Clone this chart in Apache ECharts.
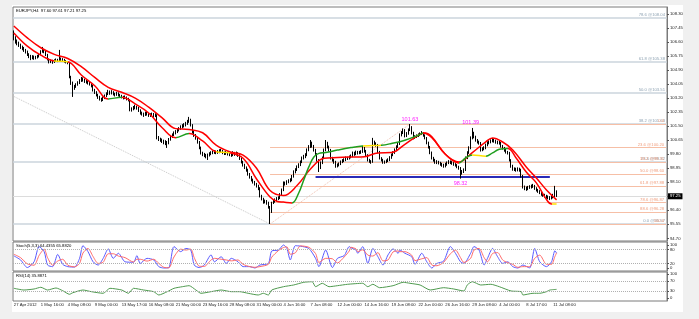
<!DOCTYPE html>
<html><head><meta charset="utf-8">
<script src="https://cdn.jsdelivr.net/npm/echarts@6/dist/echarts.min.js"></script>
<style>html,body{margin:0;padding:0;background:#f0f0f0;}#c{width:699px;height:319px;}</style>
</head><body><div id="c"></div>
<script>
// ---------------- DATA ----------------
const dateLabels = ["27 Apr 2012","1 May 16:00","4 May 08:00","9 May 00:00","13 May 17:00","16 May 08:00","21 May 00:00","23 May 16:00","28 May 08:00","31 May 00:00","4 Jun 16:00","7 Jun 08:00","12 Jun 00:00","14 Jun 16:00","19 Jun 08:00","22 Jun 00:00","26 Jun 16:00","29 Jun 08:00","4 Jul 00:00","8 Jul 17:00","11 Jul 08:00"];
const priceTicks = [108.30,107.45,106.60,105.75,104.90,104.05,103.20,102.35,101.50,100.65,99.80,98.95,98.10,97.25,96.40,95.55,94.70];
const stochTicks = [100,80,20,0];
const rsiTicks = [100,70,30,0];
// [open, close, low, high]
const ohlc = [
[107.05,106.85,106.70,107.30],[106.85,106.60,106.50,106.95],[106.60,106.55,106.40,106.75],[106.55,106.40,106.30,106.62],[106.40,106.30,106.18,106.50],[106.30,106.20,106.10,106.38],[106.20,106.10,106.00,106.30],[106.10,106.00,105.90,106.18],[106.00,105.85,105.75,106.08],[105.85,105.75,105.62,105.92],
[105.75,105.63,105.50,105.82],[105.63,105.70,105.55,105.80],[105.70,105.63,105.52,105.78],[105.63,105.68,105.55,105.76],[105.68,105.72,105.60,105.82],[105.72,105.85,105.66,105.92],[105.85,106.00,105.80,106.10],[106.00,106.12,105.95,106.30],[106.12,106.02,105.92,106.18],[106.02,105.82,105.75,106.06],
[105.82,105.55,105.48,105.88],[105.55,105.39,105.30,105.60],[105.39,105.45,105.32,105.55],[105.45,105.39,105.28,105.52],[105.39,105.46,105.33,105.55],[105.46,105.51,105.40,105.60],[105.51,105.48,105.38,105.58],[105.48,105.57,105.42,106.12],[105.57,105.55,105.45,105.66],[105.55,105.51,105.42,105.62],
[105.51,105.44,105.35,105.58],[105.44,105.39,105.30,105.50],[105.39,105.33,105.25,105.45],[105.33,104.48,104.40,105.38],[104.48,104.12,104.00,104.55],[104.12,103.82,103.27,104.20],[103.82,103.90,103.70,104.00],[103.90,104.00,103.82,104.10],[104.00,104.12,103.95,104.22],[104.12,104.25,104.05,104.35],
[104.25,104.36,104.18,104.48],[104.36,104.30,104.20,104.45],[104.30,104.22,104.12,104.38],[104.22,104.18,104.08,104.30],[104.18,104.12,104.02,104.26],[104.12,104.05,103.96,104.20],[104.05,103.94,103.85,104.12],[103.94,103.69,103.60,104.00],[103.69,103.55,103.45,103.76],[103.55,103.40,103.30,103.62],
[103.40,103.27,103.15,103.46],[103.27,103.15,103.05,103.34],[103.15,103.09,102.98,103.22],[103.09,103.20,103.02,103.30],[103.20,103.33,103.14,103.42],[103.33,103.45,103.26,103.55],[103.45,103.57,103.38,103.70],[103.57,103.50,103.40,103.66],[103.50,103.55,103.42,103.68],[103.55,103.45,103.36,103.62],
[103.45,103.40,103.30,103.52],[103.40,103.48,103.34,103.58],[103.48,103.39,103.30,103.55],[103.39,103.33,103.24,103.45],[103.33,103.28,103.18,103.40],[103.28,103.21,103.12,103.34],[103.21,103.25,103.14,103.36],[103.25,103.15,103.06,103.30],[103.15,103.09,103.00,103.22],[103.09,102.48,102.40,103.14],
[102.48,102.55,102.38,102.64],[102.55,102.62,102.46,102.72],[102.62,102.66,102.52,102.80],[102.66,102.60,102.50,102.74],[102.60,102.45,102.36,102.66],[102.45,102.30,102.20,102.52],[102.30,102.25,102.14,102.38],[102.25,102.18,102.06,102.32],[102.18,102.28,102.12,102.38],[102.28,102.24,102.14,102.36],
[102.24,102.15,102.06,102.30],[102.15,102.18,102.06,102.28],[102.18,102.22,102.10,102.32],[102.22,102.12,102.02,102.30],[102.12,102.18,102.05,102.28],[102.18,100.79,100.70,102.22],[100.79,100.72,100.60,100.90],[100.72,100.66,100.55,100.80],[100.66,100.60,100.48,100.75],[100.60,100.54,100.40,100.68],
[100.54,100.50,100.35,100.65],[100.50,100.48,100.18,100.60],[100.48,100.70,100.40,100.78],[100.70,100.85,100.62,100.94],[100.85,100.98,100.78,101.06],[100.98,101.09,100.90,101.18],[101.09,101.15,101.00,101.26],[101.15,101.27,101.08,101.36],[101.27,101.35,101.18,101.44],[101.35,101.45,101.28,101.55],
[101.45,101.50,101.36,101.62],[101.50,101.57,101.42,101.68],[101.57,101.65,101.48,101.76],[101.65,101.76,101.58,101.88],[101.76,101.88,101.70,102.06],[101.88,101.57,101.48,101.95],[101.57,101.15,101.05,101.62],[101.15,100.95,100.85,101.22],[100.95,100.79,100.68,101.02],[100.79,100.54,100.44,100.85],
[100.54,100.20,100.10,100.60],[100.20,99.88,99.78,100.26],[99.88,99.80,99.68,99.95],[99.80,99.75,99.62,99.88],[99.75,99.70,99.55,99.82],[99.70,99.75,99.45,99.84],[99.75,99.82,99.66,99.92],[99.82,99.88,99.74,99.98],[99.88,99.92,99.80,100.02],[99.92,99.94,99.82,100.05],
[99.94,99.90,99.80,100.02],[99.90,99.94,99.82,100.05],[99.94,99.98,99.86,100.10],[99.98,100.00,99.88,100.12],[100.00,99.88,99.80,100.06],[99.88,99.85,99.75,99.96],[99.85,99.90,99.76,100.00],[99.90,99.82,99.72,99.96],[99.82,99.78,99.68,99.90],[99.78,99.75,99.64,99.86],
[99.75,99.88,99.68,99.98],[99.88,99.80,99.70,99.94],[99.80,99.85,99.72,99.96],[99.85,99.75,99.64,99.92],[99.75,99.55,99.45,99.80],[99.55,99.33,99.24,99.60],[99.33,99.15,99.05,99.40],[99.15,99.00,98.90,99.22],[99.00,98.85,98.74,99.06],[98.85,98.60,98.50,98.92],
[98.60,98.42,98.32,98.66],[98.42,98.25,98.15,98.48],[98.25,98.12,98.02,98.32],[98.12,98.00,97.90,98.18],[98.00,97.88,97.78,98.06],[97.88,97.75,97.62,97.95],[97.75,97.27,97.18,97.80],[97.27,97.10,97.00,97.34],[97.10,96.91,96.80,97.16],[96.91,96.95,96.82,97.05],
[96.95,96.85,96.74,97.02],[96.85,96.60,96.50,96.92],[96.60,96.30,95.57,96.66],[96.30,96.85,96.24,96.92],[96.85,96.95,96.78,97.04],[96.95,97.03,96.86,97.12],[97.03,97.10,96.95,97.20],[97.10,97.15,97.02,97.25],[97.15,97.35,97.08,97.44],[97.35,97.63,97.28,97.72],
[97.63,98.06,97.56,98.15],[98.06,98.00,97.90,98.14],[98.00,98.12,97.94,98.22],[98.12,98.18,98.04,98.28],[98.18,98.24,98.10,98.34],[98.24,98.45,98.16,98.54],[98.45,98.72,98.38,98.82],[98.72,98.85,98.64,98.95],[98.85,99.03,98.78,99.12],[99.03,99.15,98.96,99.25],
[99.15,99.33,99.08,99.42],[99.33,99.57,99.26,99.66],[99.57,99.65,99.48,99.76],[99.65,99.75,99.56,99.86],[99.75,100.06,99.68,100.15],[100.06,100.25,99.98,100.35],[100.25,100.48,100.18,100.66],[100.48,100.30,100.20,100.56],[100.30,100.06,99.96,100.36],[100.06,99.80,99.70,100.12],
[99.80,99.45,99.35,99.86],[99.45,98.97,98.72,99.50],[98.97,99.27,98.90,99.36],[99.27,99.57,99.20,99.66],[99.57,100.05,99.50,100.14],[100.05,100.48,99.98,100.66],[100.48,100.25,100.15,100.55],[100.25,100.06,99.96,100.32],[100.06,99.57,99.48,100.12],[99.57,99.45,99.35,99.64],
[99.45,99.33,99.22,99.52],[99.33,99.09,98.98,99.40],[99.09,99.15,99.00,99.24],[99.15,99.21,99.06,99.30],[99.21,99.33,99.14,99.42],[99.33,99.40,99.26,99.50],[99.40,99.45,99.32,99.55],[99.45,99.57,99.38,99.66],[99.57,99.55,99.45,99.65],[99.55,99.63,99.48,99.72],
[99.63,99.69,99.55,99.78],[99.69,99.88,99.62,99.96],[99.88,99.80,99.70,99.95],[99.80,99.92,99.74,100.02],[99.92,99.88,99.78,100.00],[99.88,99.90,99.80,100.00],[99.90,99.94,99.82,100.04],[99.94,100.18,99.88,100.30],[100.18,100.00,99.90,100.24],[100.00,99.75,99.65,100.06],
[99.75,99.45,99.36,99.80],[99.45,99.38,99.28,99.52],[99.38,99.33,99.22,99.44],[99.33,100.54,99.28,100.79],[100.54,100.45,100.34,100.62],[100.45,100.36,100.25,100.52],[100.36,99.95,99.85,100.42],[99.95,99.57,99.48,100.00],[99.57,99.45,99.36,99.62],[99.45,99.33,99.22,99.52],
[99.33,99.33,99.22,99.42],[99.33,99.40,99.26,99.48],[99.40,99.45,99.32,99.55],[99.45,99.60,99.38,99.68],[99.60,99.75,99.52,99.84],[99.75,99.90,99.68,99.98],[99.90,100.06,99.82,100.15],[100.06,100.25,99.98,100.34],[100.25,100.42,100.18,100.52],[100.42,100.97,100.36,101.06],
[100.97,101.10,100.88,101.20],[101.10,101.27,101.02,101.36],[101.27,100.91,100.82,101.32],[100.91,101.05,100.84,101.14],[101.05,101.27,100.98,101.36],[101.27,101.45,101.20,101.63],[101.45,101.10,101.00,101.50],[101.10,100.79,100.70,101.16],[100.79,100.85,100.72,100.95],[100.85,100.91,100.78,101.00],
[100.91,100.97,100.84,101.06],[100.97,101.03,100.90,101.12],[101.03,101.09,100.96,101.20],[101.09,100.95,100.86,101.14],[100.95,100.79,100.70,101.00],[100.79,100.50,100.40,100.84],[100.50,100.24,100.14,100.56],[100.24,99.90,99.80,100.30],[99.90,99.57,99.48,99.96],[99.57,99.45,99.35,99.64],
[99.45,99.33,99.22,99.52],[99.33,99.33,99.20,99.44],[99.33,99.28,99.18,99.40],[99.28,99.21,99.10,99.34],[99.21,99.15,99.04,99.28],[99.15,99.09,98.98,99.22],[99.09,99.18,99.00,99.28],[99.18,99.27,99.10,99.36],[99.27,99.33,99.20,99.44],[99.33,99.30,99.20,99.42],
[99.30,99.27,99.16,99.38],[99.27,99.20,99.10,99.32],[99.20,99.15,99.05,99.26],[99.15,99.05,98.95,99.20],[99.05,98.97,98.86,99.10],[98.97,98.66,98.32,99.02],[98.66,98.75,98.56,98.84],[98.75,98.85,98.66,98.94],[98.85,99.57,98.78,99.66],[99.57,99.90,99.50,99.98],
[99.90,100.18,99.82,100.28],[100.18,100.79,100.10,100.88],[100.79,101.09,100.70,101.39],[101.09,100.85,100.76,101.16],[100.85,100.66,100.56,100.92],[100.66,100.55,100.45,100.72],[100.55,100.48,100.38,100.62],[100.48,100.06,99.96,100.54],[100.06,100.12,99.98,100.22],[100.12,100.18,100.04,100.28],
[100.18,100.35,100.10,100.44],[100.35,100.48,100.28,100.58],[100.48,100.55,100.40,100.64],[100.55,100.60,100.46,100.70],[100.60,100.66,100.52,100.78],[100.66,100.60,100.50,100.74],[100.60,100.54,100.44,100.68],[100.54,100.50,100.40,100.62],[100.50,100.48,100.38,100.60],[100.48,100.30,100.20,100.54],
[100.30,100.18,100.08,100.36],[100.18,100.05,99.95,100.24],[100.05,99.94,99.84,100.12],[99.94,99.88,99.78,100.00],[99.88,99.45,99.36,99.94],[99.45,99.09,98.98,99.50],[99.09,98.91,98.80,99.16],[98.91,98.88,98.78,99.00],[98.88,98.85,98.74,98.98],[98.85,98.90,98.76,99.00],
[98.90,98.85,98.74,98.98],[98.85,98.48,98.38,98.92],[98.48,97.82,97.72,98.54],[97.82,97.75,97.62,97.90],[97.75,97.70,97.58,97.84],[97.70,97.78,97.62,97.88],[97.78,97.82,97.70,97.92],[97.82,97.85,97.72,97.96],[97.85,97.88,97.76,98.00],[97.88,97.75,97.64,97.94],
[97.75,97.65,97.54,97.80],[97.65,97.57,97.46,97.70],[97.57,97.48,97.38,97.62],[97.48,97.39,97.28,97.54],[97.39,97.33,97.22,97.46],[97.33,97.27,97.16,97.40],[97.27,97.21,97.10,97.34],[97.21,97.18,97.06,97.30],[97.18,97.15,97.02,97.26],[97.15,97.20,97.06,97.32],
[97.20,97.27,97.12,97.40],[97.27,97.60,97.20,97.88],[97.60,97.25,97.21,97.61]
];
// moving averages, [bar index, value]
const maSlow = [[0,107.57],[8,106.85],[16,106.25],[24,105.85],[32,105.60],[40,105.10],[48,104.45],[56,103.85],[64,103.55],[72,103.20],[80,102.65],[88,102.00],[96,101.35],[104,101.30],[112,101.10],[120,100.35],[128,99.95],[136,99.75],[144,98.95],[152,97.60],[160,97.30],[168,97.90],[176,98.90],[184,99.55],[192,99.60],[200,99.63],[208,99.65],[216,99.88],[224,99.90],[232,100.40],[240,100.95],[244,101.08],[248,100.85],[256,99.80],[264,99.33],[272,99.90],[280,100.55],[284,100.78],[290,100.54],[296,100.06],[304,99.03],[310,98.36],[316,97.63],[322,97.03]];
const maFast = [[0,107.15],[8,106.35],[16,105.80],[24,105.45],[32,105.40],[40,104.60],[48,103.95],[56,103.15],[64,103.25],[72,102.85],[80,102.30],[88,101.40],[96,100.80],[104,101.05],[112,100.60],[120,99.95],[128,99.88],[136,99.55],[144,98.30],[152,97.20],[156,96.95],[160,96.90],[165,96.85],[169,97.45],[172,98.24],[175,99.03],[178,99.63],[181,99.85],[185,99.90],[192,100.05],[200,100.20],[207,100.30],[213,100.32],[218,100.34],[224,100.45],[232,100.65],[240,100.95],[243,101.09],[248,100.80],[256,99.80],[264,99.27],[268,99.57],[272,99.75],[280,99.68],[284,99.88],[288,100.10],[293,100.15],[298,99.57],[304,98.72],[310,98.06],[316,97.05],[319,96.78],[322,96.78]];
const stochK = [[0,53],[4,35],[8,2],[12,27],[15,93],[18,71],[20,13],[23,6],[26,59],[29,16],[32,6],[36,4],[39,42],[41,97],[44,71],[47,27],[50,13],[53,42],[56,83],[59,42],[62,64],[66,27],[71,25],[73,54],[75,20],[79,42],[83,35],[86,6],[89,0],[92,2],[95,93],[99,71],[102,85],[105,78],[107,13],[110,2],[113,13],[117,57],[119,27],[123,49],[126,20],[129,42],[133,27],[136,6],[140,6],[143,0],[146,13],[151,20],[153,74],[157,78],[160,100],[162,85],[164,35],[167,97],[170,95],[175,85],[179,42],[181,6],[185,78],[189,2],[192,42],[196,54],[199,93],[200,88],[203,78],[204,64],[207,93],[210,20],[213,85],[216,49],[219,13],[222,57],[225,83],[228,64],[229,78],[232,64],[236,49],[238,16],[242,64],[245,27],[248,0],[251,20],[255,30],[259,93],[262,64],[265,27],[267,20],[271,64],[273,93],[276,78],[279,13],[281,42],[284,85],[287,49],[290,20],[293,27],[296,6],[299,0],[302,13],[306,0],[309,85],[312,27],[316,6],[319,27],[321,75],[322,64.44]];
const stochD = [[0,60],[4,45],[8,18],[12,12],[15,55],[18,82],[20,45],[23,12],[26,30],[29,38],[32,12],[36,5],[39,20],[41,65],[44,85],[47,50],[50,20],[53,25],[56,62],[59,62],[62,52],[66,45],[71,26],[73,38],[75,38],[79,30],[83,38],[86,20],[89,3],[92,1],[95,48],[99,82],[102,78],[105,82],[107,45],[110,8],[113,7],[117,35],[119,42],[123,38],[126,35],[129,31],[133,35],[136,16],[140,6],[143,3],[146,6],[151,16],[153,47],[157,76],[160,89],[162,92],[164,60],[167,66],[170,96],[175,90],[179,63],[181,24],[185,42],[189,40],[192,22],[196,48],[199,74],[200,90],[203,83],[204,71],[207,79],[210,56],[213,52],[216,67],[219,31],[222,35],[225,70],[228,74],[229,71],[232,71],[236,56],[238,32],[242,40],[245,45],[248,13],[251,10],[255,25],[259,62],[262,78],[265,45],[267,24],[271,42],[273,78],[276,85],[279,45],[281,27],[284,63],[287,67],[290,35],[293,23],[296,16],[299,3],[302,6],[306,6],[309,42],[312,56],[316,16],[319,16],[321,50],[322,65.88]];
const rsi = [[0,40.4],[6,33.3],[12,37.5],[16,44.6],[20,33.3],[25,41.7],[29,30.4],[33,15.4],[35,22],[41,33.3],[46,26.3],[53,19.6],[57,40.4],[64,33.3],[68,19.6],[71,40.4],[77,33.3],[83,26.3],[86,12.5],[91,26.3],[95,40.4],[100,47.1],[104,51.3],[108,33.3],[111,19.6],[117,26.3],[123,33.3],[129,26.3],[134,26.3],[139,19.6],[145,12.5],[148,19.6],[151,12.5],[153,33.3],[160,47.1],[166,54.2],[172,65.4],[177,67.9],[179,47.1],[183,61.3],[187,47.1],[192,51.3],[198,57.1],[207,61.3],[210,47.1],[213,57.1],[217,42.9],[225,51.3],[231,65.4],[235,61.3],[241,54.2],[247,33.3],[255,42.9],[261,37.5],[267,29.2],[269,54.2],[272,67.9],[277,54.2],[283,57.1],[288,47.1],[295,29.2],[301,26.3],[302,12.5],[308,19.6],[312,19.6],[316,26.3],[318,33.3],[322,35.89]];
// Fibonacci levels
const greyFibLevels = [108.04,105.38,103.51,101.63,99.32,95.57];
const greyFibLabels = ["78.6 @108.04","61.8 @105.38","50.0 @103.51","38.2 @101.63","23.6 @99.32","0.0 @95.57"];
const salmonFibLevels = [101.63,100.20,99.31,98.60,97.88,96.87,96.28,95.56];
const salmonFibLabels = ["0.0","23.6 @100.20","38.2 @99.31","50.0 @98.60","61.8 @97.88","78.6 @96.87","88.6 @96.28","100.0"];
const swingLabels = [[235,101.63,"101.63","top"],[271,101.39,"101.39","top"],[265,98.32,"98.32","bottom"]];
const supportLine = [[179,98.46],[318,98.46]];
const greyTrend = [[0,103.30],[152,95.57]];
const salmonTrend = [[152,95.57],[235,101.63]];
const lastPrice = 97.25;

// ---------------- CHART ----------------
const N = 388;
const categories = [];
for (let i = 0; i < N; i++) categories.push(i % 16 === 0 && dateLabels[i / 16] ? dateLabels[i / 16] : '');
const FONT = 'Liberation Sans, Arial, sans-serif';
const FS = 4.2;

function slopePieces(pts) {
  const pieces = [];
  for (let j = 0; j < pts.length - 1; j++) {
    const d = (pts[j + 1][1] - pts[j][1]) / (pts[j + 1][0] - pts[j][0]);
    const color = d > 0.01 ? '#1e9e1e' : (d < -0.01 ? '#ff0000' : '#ffe000');
    const p = { gte: pts[j][0], color };
    if (j === pts.length - 2) p.lte = pts[j + 1][0]; else p.lt = pts[j + 1][0];
    pieces.push(p);
  }
  return pieces;
}

const fibLines = [];
greyFibLevels.forEach((v, k) => fibLines.push({
  yAxis: v, lineStyle: { color: '#cbd5dc', width: 1.5, type: 'solid' },
  label: { show: true, position: 'insideEndTop', formatter: greyFibLabels[k], color: '#8fa3b3', fontSize: FS, fontFamily: FONT, distance: [2, 1] }
}));
salmonFibLevels.forEach((v, k) => fibLines.push([
  { coord: [152, v], lineStyle: { color: '#f6bfa6', width: 1, type: 'solid' },
    label: { show: true, position: 'insideEndTop', formatter: salmonFibLabels[k], color: '#f0a080', fontSize: FS, fontFamily: FONT, distance: [2, 1] } },
  { coord: [N - 1, v] }
]));
fibLines.push({ yAxis: lastPrice, lineStyle: { color: '#dcdcdc', width: 1, type: 'solid' },
  label: { show: true, position: 'end', formatter: lastPrice.toFixed(2), backgroundColor: '#000', color: '#fff', fontSize: FS, fontFamily: FONT, padding: [1, 2, 1, 2], distance: 1 } });
fibLines.push([{ coord: greyTrend[0], lineStyle: { color: '#c8c8c8', type: 'dotted', width: 1 }, label: { show: false } }, { coord: greyTrend[1] }]);
fibLines.push([{ coord: salmonTrend[0], lineStyle: { color: '#f0c0b0', type: 'dotted', width: 1 }, label: { show: false } }, { coord: salmonTrend[1] }]);
fibLines.push([{ coord: supportLine[0], lineStyle: { color: '#2a2ab8', type: 'solid', width: 2 }, label: { show: false } }, { coord: supportLine[1] }]);

const chart = echarts.init(document.getElementById('c'), null, { renderer: 'canvas', width: 699, height: 319 });
const gridDefs = [
  { left: 13, top: 7, width: 654, height: 234 },
  { left: 13, top: 242, width: 654, height: 29 },
  { left: 13, top: 272, width: 654, height: 29 }
];
const yLabel = { fontSize: FS, color: '#222', margin: 3, fontFamily: FONT };
chart.setOption({
  animation: false,
  backgroundColor: '#f0f0f0',
  textStyle: { fontFamily: FONT },
  graphic: [
    { type: 'rect', z: -100, shape: { x: 12, y: 5, width: 671, height: 307 }, style: { fill: '#ffffff' } },
    { type: 'text', left: 16, top: 9, z: 100, style: { text: 'EURJPY,H4  97.60 97.61 97.21 97.25', fill: '#000', font: FS + 'px ' + FONT } },
    { type: 'text', left: 16, top: 244, z: 100, style: { text: 'Stoch(5,3,3) 64.4355 65.8820', fill: '#000', font: FS + 'px ' + FONT } },
    { type: 'text', left: 16, top: 274, z: 100, style: { text: 'RSI(14) 35.8871', fill: '#000', font: FS + 'px ' + FONT } }
  ],
  grid: gridDefs.map(g => Object.assign({ show: true, backgroundColor: '#fff', borderColor: '#7a7a7a', borderWidth: 1 }, g)),
  xAxis: [0, 1, 2].map(k => ({
    type: 'category', gridIndex: k, data: categories, boundaryGap: true,
    axisLine: { show: false }, axisTick: { show: false }, splitLine: { show: false },
    axisLabel: k === 2 ? { show: true, interval: 15, showMinLabel: true, align: 'left', fontSize: FS, color: '#222', margin: 2, fontFamily: FONT } : { show: false }
  })),
  yAxis: [
    { type: 'value', gridIndex: 0, position: 'right', min: 94.54, max: 108.72, splitLine: { show: false },
      axisLine: { show: true, lineStyle: { color: '#7a7a7a' } },
      axisTick: { show: true, length: 2, customValues: priceTicks, lineStyle: { color: '#555' } },
      axisLabel: Object.assign({ customValues: priceTicks, formatter: v => v.toFixed(2) }, yLabel) },
    { type: 'value', gridIndex: 1, position: 'right', min: -13, max: 113, splitLine: { show: false },
      axisLine: { show: true, lineStyle: { color: '#7a7a7a' } },
      axisTick: { show: true, length: 2, customValues: stochTicks, lineStyle: { color: '#555' } },
      axisLabel: Object.assign({ customValues: stochTicks }, yLabel) },
    { type: 'value', gridIndex: 2, position: 'right', min: -12.5, max: 108.3, splitLine: { show: false },
      axisLine: { show: true, lineStyle: { color: '#7a7a7a' } },
      axisTick: { show: true, length: 2, customValues: rsiTicks, lineStyle: { color: '#555' } },
      axisLabel: Object.assign({ customValues: rsiTicks }, yLabel) }
  ],
  visualMap: [{ show: false, type: 'piecewise', seriesIndex: 2, dimension: 0, pieces: slopePieces(maFast), outOfRange: { color: '#ff0000' } }],
  series: [
    { type: 'candlestick', xAxisIndex: 0, yAxisIndex: 0, data: ohlc, barWidth: 1, z: 5,
      itemStyle: { color: '#ffffff', color0: '#000000', borderColor: '#000000', borderColor0: '#000000', borderWidth: 1 },
      markLine: { symbol: 'none', silent: true, animation: false, z: 1, data: fibLines },
      markPoint: { symbol: 'circle', symbolSize: 0, silent: true,
        data: swingLabels.map(s => ({ coord: [s[0], s[1]], name: s[2],
          label: { show: true, position: s[3], distance: 2, formatter: s[2], color: '#ff22ff', fontSize: 5.5, fontFamily: FONT } })) } },
    { type: 'line', xAxisIndex: 0, yAxisIndex: 0, data: maSlow, smooth: 0.4, showSymbol: false, z: 6,
      lineStyle: { color: '#ff0000', width: 1.5 } },
    { type: 'line', xAxisIndex: 0, yAxisIndex: 0, data: maFast, smooth: 0.4, showSymbol: false, z: 7,
      lineStyle: { width: 1.5 } },
    { type: 'line', xAxisIndex: 1, yAxisIndex: 1, data: stochK, smooth: 0.25, showSymbol: false,
      lineStyle: { color: '#5a5aff', width: 1 },
      markLine: { symbol: 'none', silent: true, label: { show: false },
        lineStyle: { color: '#b0b0b0', type: 'dotted', width: 1 }, data: [{ yAxis: 80 }, { yAxis: 20 }] } },
    { type: 'line', xAxisIndex: 1, yAxisIndex: 1, data: stochD, smooth: 0.25, showSymbol: false,
      lineStyle: { color: '#ff6a6a', width: 1 } },
    { type: 'line', xAxisIndex: 2, yAxisIndex: 2, data: rsi, smooth: 0.2, showSymbol: false,
      lineStyle: { color: '#4f9a4f', width: 1 },
      markLine: { symbol: 'none', silent: true, label: { show: false },
        lineStyle: { color: '#b0b0b0', type: 'dotted', width: 1 }, data: [{ yAxis: 70 }, { yAxis: 30 }] } }
  ]
});
</script></body></html>
